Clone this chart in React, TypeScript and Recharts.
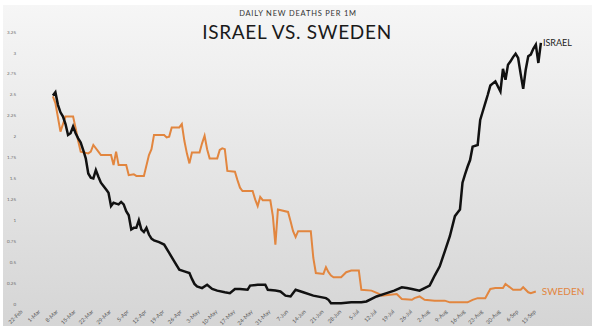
import { LineChart, Line, XAxis, YAxis } from 'recharts';

// days counted from 22-Feb (2021)
const TICK_LABELS = [
    '22-Feb', '1-Mar', '8-Mar', '15-Mar', '22-Mar', '29-Mar', '5-Apr', '12-Apr', '19-Apr', '26-Apr',
    '3-May', '10-May', '17-May', '24-May', '31-May', '7-Jun', '14-Jun', '21-Jun', '28-Jun', '5-Jul',
    '12-Jul', '19-Jul', '26-Jul', '2-Aug', '9-Aug', '16-Aug', '23-Aug', '30-Aug', '6-Sep', '13-Sep',
];

const Y_TICKS = [0, 0.25, 0.5, 0.75, 1, 1.25, 1.5, 1.75, 2, 2.25, 2.5, 2.75, 3, 3.25];

const ISRAEL_DAYS = [
    13, 14, 15, 16, 17, 18, 19, 20, 21, 22, 23, 24, 25, 26, 27, 28, 29, 30, 31, 32, 33, 34, 35, 36, 37, 38, 39,
    40, 41, 42, 43, 44, 45, 46, 47, 48, 49, 50, 51, 52, 53, 55, 57, 59, 61, 63, 65, 67, 68, 69, 70, 72, 74, 76,
    78, 81, 83, 85, 87, 90, 91, 94, 97, 98, 101, 103, 105, 107, 109, 112, 116, 121, 122, 123, 127, 131, 135,
    137, 141, 145, 148, 151, 153, 155, 158, 160, 162, 163, 164, 166, 168, 170, 172, 173, 174, 175, 176, 177,
    178, 179, 181, 182, 183, 184, 185, 186, 188, 190, 191, 192, 193, 194, 195, 196, 197, 198, 199, 200, 201,
    202, 203, 204, 205, 206,
];
const ISRAEL_VALUES = [
    2.49, 2.53, 2.38, 2.29, 2.24, 2.15, 2.02, 2.04, 2.12, 2.04, 1.98, 1.93, 1.84, 1.74, 1.56, 1.51, 1.5, 1.6,
    1.52, 1.45, 1.41, 1.37, 1.33, 1.17, 1.21, 1.2, 1.19, 1.22, 1.19, 1.11, 1.06, 0.89, 0.91, 0.91, 1.0, 0.89,
    0.86, 0.91, 0.83, 0.78, 0.76, 0.74, 0.71, 0.61, 0.51, 0.41, 0.39, 0.37, 0.3, 0.24, 0.21, 0.19, 0.23, 0.18,
    0.16, 0.14, 0.13, 0.18, 0.18, 0.17, 0.22, 0.23, 0.23, 0.17, 0.16, 0.15, 0.1, 0.09, 0.17, 0.14, 0.1, 0.07,
    0.05, 0.01, 0.01, 0.02, 0.02, 0.03, 0.09, 0.13, 0.16, 0.2, 0.19, 0.18, 0.16, 0.19, 0.22, 0.28, 0.34, 0.45,
    0.63, 0.81, 1.05, 1.09, 1.13, 1.45, 1.55, 1.64, 1.72, 1.88, 1.9, 2.2, 2.3, 2.4, 2.5, 2.61, 2.66, 2.54,
    2.81, 2.68, 2.86, 2.9, 2.95, 2.99, 2.94, 2.75, 2.57, 2.8, 2.96, 2.98, 3.05, 3.1, 2.88, 3.12,
];

const SWEDEN_DAYS = [
    13, 14, 16, 18, 21, 22, 23, 24, 27, 28, 29, 31, 32, 36, 37, 38, 39, 42, 43, 45, 46, 49, 51, 52, 53, 57,
    58, 59, 60, 63, 64, 65, 66, 67, 68, 71, 72, 73, 74, 75, 78, 79, 80, 81, 82, 85, 86, 87, 88, 92, 93, 94,
    95, 96, 99, 100, 101, 102, 106, 107, 108, 109, 110, 115, 116, 117, 120, 121, 122, 123, 124, 127, 129,
    131, 134, 135, 139, 142, 143, 149, 151, 155, 156, 158, 160, 164, 168, 170, 177, 179, 181, 184, 186, 188,
    191, 192, 195, 198, 199, 201, 202, 204,
];
const SWEDEN_VALUES = [
    2.48, 2.4, 2.06, 2.24, 2.24, 2.1, 1.95, 1.82, 1.8, 1.82, 1.9, 1.82, 1.78, 1.78, 1.66, 1.82, 1.66, 1.66,
    1.54, 1.55, 1.53, 1.53, 1.78, 1.85, 2.02, 2.02, 1.99, 2.0, 2.11, 2.11, 2.15, 1.95, 1.8, 1.68, 1.81, 1.81,
    1.92, 2.01, 1.85, 1.74, 1.74, 1.84, 1.86, 1.85, 1.59, 1.58, 1.48, 1.39, 1.35, 1.35, 1.25, 1.17, 1.28,
    1.24, 1.24, 1.05, 0.71, 1.13, 1.1, 0.99, 0.87, 0.8, 0.87, 0.87, 0.55, 0.37, 0.36, 0.44, 0.38, 0.34, 0.32,
    0.32, 0.38, 0.4, 0.4, 0.17, 0.16, 0.12, 0.1, 0.12, 0.06, 0.05, 0.07, 0.09, 0.05, 0.04, 0.04, 0.02, 0.02,
    0.05, 0.07, 0.07, 0.18, 0.19, 0.19, 0.24, 0.17, 0.17, 0.2, 0.14, 0.13, 0.15,
];

const israelData = ISRAEL_DAYS.map((day, i) => ({ day, value: ISRAEL_VALUES[i] }));
const swedenData = SWEDEN_DAYS.map((day, i) => ({ day, value: SWEDEN_VALUES[i] }));

const FONT = 'Lato, "Open Sans", sans-serif';
const ORANGE = '#E2863F';

function DateTick(props: any) {
    const { x, y, payload } = props;
    const label = TICK_LABELS[Math.round(payload.value / 7)];
    return (
        <g transform={`translate(${x + 3},${y + 8})`}>
            <text x={0} y={0} textAnchor="end" transform="rotate(-45)" fontSize={5.5} fill="#555" fontFamily={FONT}>
                {label}
            </text>
        </g>
    );
}

// name at the end of each line
const endLabel = (name: string, color: string, size: number, dx: number, dy: number, last: number) =>
    (props: any) => {
        if (props.index !== last) return null;
        return (
            <text x={props.x + dx} y={props.y + dy} fontSize={size} fill={color} fontFamily={FONT}>
                {name}
            </text>
        );
    };

export default function App() {
    return (
        <div style={{ position: 'absolute', left: 0, top: 0, width: 600, height: 331, background: '#fff', overflow: 'hidden' }}>
            <div style={{
                position: 'absolute', left: 3, top: 5, width: 589, height: 321,
                background: 'linear-gradient(#f6f6f6, #d5d5d5)',
            }} />
            <div style={{
                position: 'absolute', left: 0, top: 9, width: 596, textAlign: 'center',
                fontFamily: FONT, fontSize: 7.5, letterSpacing: 0.8, color: '#333',
            }}>
                DAILY NEW DEATHS PER 1M
            </div>
            <div style={{
                position: 'absolute', left: 0, top: 20, width: 594, textAlign: 'center',
                fontFamily: FONT, fontSize: 19, letterSpacing: 0.7, color: '#1a1a1a',
            }}>
                ISRAEL VS. SWEDEN
            </div>
            <div style={{ position: 'absolute', left: 0, top: 0 }}>
                <LineChart width={600} height={331} margin={{ top: 32, right: 49, bottom: 0, left: 0 }}>
                    <XAxis
                        type="number"
                        dataKey="day"
                        domain={[0, 210]}
                        ticks={TICK_LABELS.map((_, i) => i * 7)}
                        interval={0}
                        height={27}
                        axisLine={false}
                        tickLine={false}
                        tickSize={0}
                        tickMargin={0}
                        tick={<DateTick />}
                    />
                    <YAxis
                        type="number"
                        domain={[0, 3.25]}
                        ticks={Y_TICKS}
                        width={20}
                        axisLine={false}
                        tickLine={false}
                        tickSize={0}
                        tickMargin={4}
                        tick={{ fontSize: 4.5, fill: '#666', fontFamily: FONT }}
                    />
                    <Line
                        data={swedenData}
                        dataKey="value"
                        stroke={ORANGE}
                        strokeWidth={2}
                        dot={false}
                        isAnimationActive={false}
                        label={endLabel('SWEDEN', ORANGE, 10, 6, 4, swedenData.length - 1)}
                    />
                    <Line
                        data={israelData}
                        dataKey="value"
                        stroke="#111"
                        strokeWidth={2.5}
                        dot={false}
                        isAnimationActive={false}
                        label={endLabel('ISRAEL', '#222', 9, 2, 3, israelData.length - 1)}
                    />
                </LineChart>
            </div>
        </div>
    );
}
